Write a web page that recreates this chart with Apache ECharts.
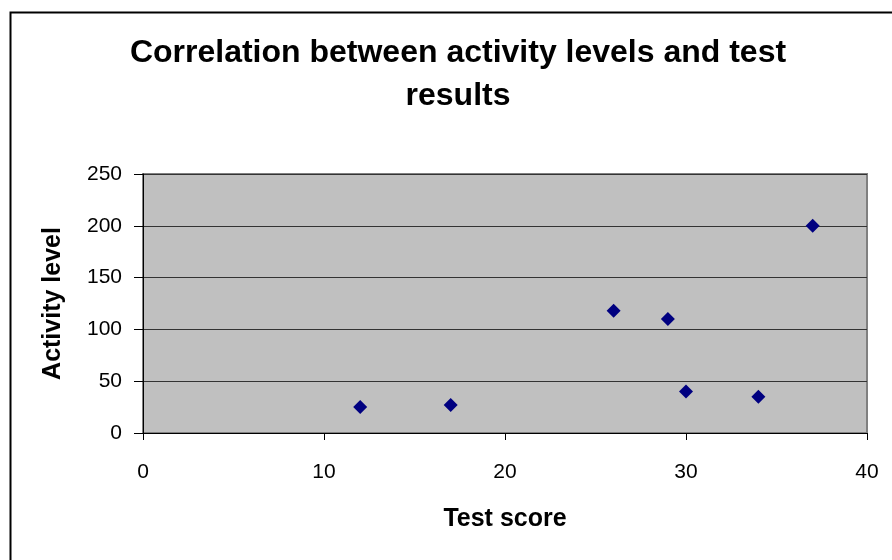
<!DOCTYPE html>
<html>
<head>
<meta charset="utf-8">
<script src="https://cdn.jsdelivr.net/npm/echarts@6/dist/echarts.min.js"></script>
<style>
html,body{margin:0;padding:0;background:#fff;}
#chart{width:892px;height:560px;}
</style>
</head>
<body>
<div id="chart"></div>
<script>
var titleLines = ['Correlation between activity levels and test', 'results'];
var xAxisName = 'Test score';
var yAxisName = 'Activity level';
var testScores = [12, 17, 26, 29, 30, 34, 37];
var activityLevels = [25, 27, 118, 110, 40, 35, 200];
var xTicks = [0, 10, 20, 30, 40];
var yTicks = [0, 50, 100, 150, 200, 250];

var points = testScores.map(function (x, i) { return [x, activityLevels[i]]; });
var FONT = 'Liberation Sans, Arial, sans-serif';

var chart = echarts.init(document.getElementById('chart'), null, {renderer: 'canvas'});
chart.setOption({
  animation: false,
  backgroundColor: '#ffffff',
  graphic: [
    {type: 'rect', left: 8, top: 10, shape: {x: 0, y: 0, width: 900, height: 600},
     style: {fill: 'none', stroke: '#000', lineWidth: 2}, z: 100},
    {type: 'text', x: 458, y: 53, style: {text: titleLines[0], fill: '#000',
      font: 'bold 32px ' + FONT, textAlign: 'center', textVerticalAlign: 'middle'}},
    {type: 'text', x: 458, y: 96, style: {text: titleLines[1], fill: '#000',
      font: 'bold 32px ' + FONT, textAlign: 'center', textVerticalAlign: 'middle'}}
  ],
  grid: {left: 143, top: 174, right: 25, bottom: 127, show: true,
    backgroundColor: '#c0c0c0', borderColor: '#808080', borderWidth: 2},
  xAxis: {
    type: 'value', min: xTicks[0], max: xTicks[xTicks.length - 1], interval: 10,
    name: xAxisName, nameLocation: 'middle', nameGap: 74,
    nameTextStyle: {fontFamily: FONT, fontWeight: 'bold', fontSize: 25, color: '#000'},
    axisLine: {show: true, onZero: false, lineStyle: {color: '#000', width: 1}},
    axisTick: {show: true, length: 7, inside: false, lineStyle: {color: '#000'}},
    axisLabel: {fontFamily: FONT, fontSize: 21, color: '#000', margin: 29},
    splitLine: {show: false}
  },
  yAxis: {
    type: 'value', min: yTicks[0], max: yTicks[yTicks.length - 1], interval: 50,
    name: yAxisName, nameLocation: 'middle', nameGap: 77, nameRotate: 90,
    nameTextStyle: {fontFamily: FONT, fontWeight: 'bold', fontSize: 25, color: '#000'},
    axisLine: {show: true, onZero: false, lineStyle: {color: '#000', width: 1}},
    axisTick: {show: true, length: 9, inside: false, lineStyle: {color: '#000'}},
    axisLabel: {fontFamily: FONT, fontSize: 21, color: '#000', margin: 21},
    splitLine: {show: true, lineStyle: {color: '#333333', width: 1}}
  },
  series: [{
    type: 'scatter',
    data: points,
    symbol: 'diamond',
    symbolSize: 14,
    itemStyle: {color: '#000080', opacity: 1}
  }]
});
</script>
</body>
</html>
